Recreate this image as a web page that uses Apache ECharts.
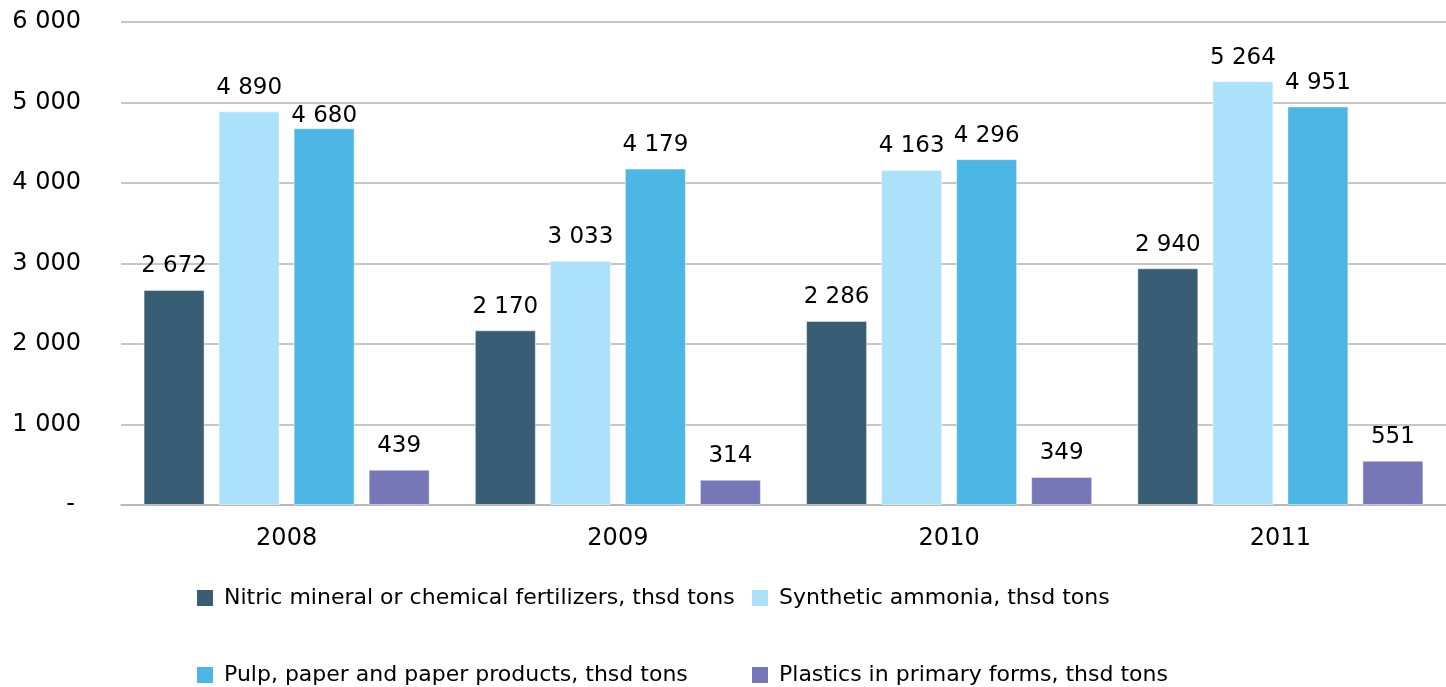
<!DOCTYPE html>
<html><head><meta charset="utf-8">
<script src="https://cdn.jsdelivr.net/npm/echarts@6/dist/echarts.min.js"></script>
<style>html,body{margin:0;padding:0;background:#fff}#c{width:1446px;height:687px}</style>
</head><body><div id="c"></div>
<script>
const categories = ['2008', '2009', '2010', '2011'];
const seriesNames = [
  'Nitric mineral or chemical fertilizers, thsd tons',
  'Synthetic ammonia, thsd tons',
  'Pulp, paper and paper products, thsd tons',
  'Plastics in primary forms, thsd tons'
];
const nitric = [2672, 2170, 2286, 2940];
const ammonia = [4890, 3033, 4163, 5264];
const pulp = [4680, 4179, 4296, 4951];
const plastics = [439, 314, 349, 551];
const colors = ['#385d74', '#abe1fa', '#4cb7e4', '#7777b7'];

const fmt = v => String(v).replace(/\B(?=(\d{3})+(?!\d))/g, ' ');
const font = 'DejaVu Sans, sans-serif';
const values = [nitric, ammonia, pulp, plastics];

const legendPos = [[195, 585], [750, 585], [195, 662], [750, 662]];
const legends = seriesNames.map((n, i) => ({
  data: [n], left: legendPos[i][0], top: legendPos[i][1],
  itemWidth: 16, itemHeight: 16, icon: 'rect', padding: 2,
  itemStyle: {borderWidth: 0},
  textStyle: {fontSize: 22, color: '#000', fontFamily: font, padding: [0, 0, 0, 6]}
}));

const chart = echarts.init(document.getElementById('c'), null, {renderer: 'canvas'});
chart.setOption({
  animation: false,
  textStyle: {fontFamily: font},
  grid: {left: 121, right: 0, top: 22, bottom: 182},
  legend: legends,
  xAxis: {
    type: 'category', data: categories,
    axisLine: {lineStyle: {color: '#b3b3b3', width: 1.5}},
    axisTick: {show: false},
    axisLabel: {fontSize: 24, color: '#000', margin: 22, fontFamily: font}
  },
  yAxis: {
    type: 'value', min: 0, max: 6000, interval: 1000,
    axisLine: {show: false}, axisTick: {show: false},
    splitLine: {lineStyle: {color: '#b3b3b3', width: 1.5}},
    axisLabel: {
      fontSize: 24, color: '#000', margin: 40, fontFamily: font,
      formatter: v => v === 0 ? '{d|-}' : fmt(v),
      rich: {d: {fontSize: 24, color: '#000', fontFamily: font, padding: [0, 6, 0, 0]}}
    }
  },
  series: values.map((arr, i) => ({
    name: seriesNames[i], type: 'bar',
    data: arr.map((v, j) => (i === 2 && j === 0) ? {value: v, label: {distance: 1}} : v),
    barWidth: 61, barGap: '23%',
    itemStyle: {color: colors[i], borderColor: 'rgba(255,255,255,0.45)', borderWidth: 1},
    label: {show: true, position: 'top', distance: 12, fontSize: 23, color: '#000', fontFamily: font,
      formatter: p => fmt(p.value)}
  }))
});
</script></body></html>
